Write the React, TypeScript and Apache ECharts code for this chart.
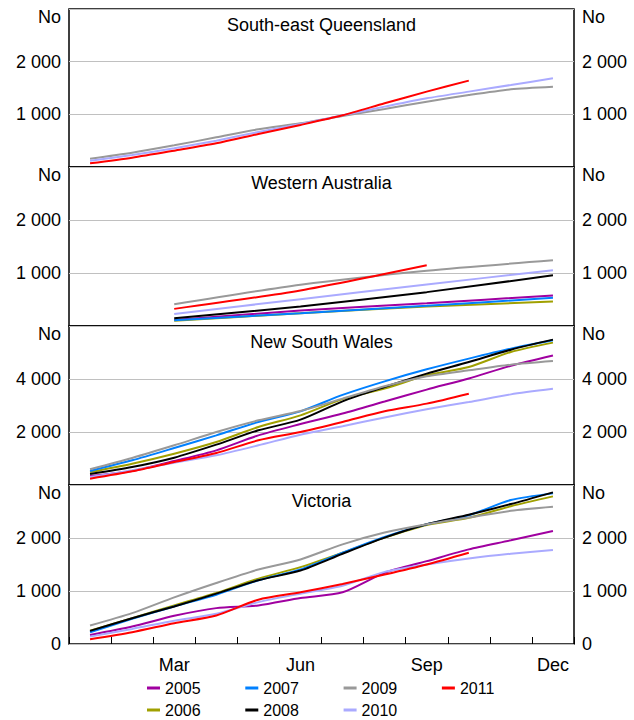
import React, { useEffect, useRef } from "react";
import * as echarts from "echarts";

const months = ["Jan", "Feb", "Mar", "Apr", "May", "Jun", "Jul", "Aug", "Sep", "Oct", "Nov", "Dec"];
const years = ["2005", "2006", "2007", "2008", "2009", "2010", "2011"];
const yearColors = ["#a000a0", "#a0a000", "#0080ff", "#000000", "#999999", "#aaaaff", "#ff0000"];
const panelTitles = ["South-east Queensland", "Western Australia", "New South Wales", "Victoria"];
const panelMax = [3000, 3000, 6000, 3000];
const panelInterval = [1000, 1000, 2000, 1000];

// South-east Queensland (monthly)
const seq2009 = [158, 272, 411, 563, 715, 829, 968, 1101, 1241, 1367, 1475, 1525];
const seq2010 = [120, 228, 354, 500, 665, 817, 981, 1146, 1304, 1431, 1557, 1684];
const seq2011 = [70, 177, 310, 449, 627, 798, 981, 1209, 1431, 1640];

// Western Australia (quarterly: Mar, Jun, Sep, Dec)
const wa2005 = [null, null, 114, null, null, 291, null, null, 430, null, null, 576];
const wa2006 = [null, null, 101, null, null, 240, null, null, 367, null, null, 462];
const wa2007 = [null, null, 108, null, null, 240, null, null, 380, null, null, 532];
const wa2008 = [null, null, 146, null, null, 367, null, null, 639, null, null, 956];
const wa2009 = [null, null, 411, null, null, 779, null, null, 1044, null, null, 1240];
const wa2010 = [null, null, 228, null, null, 506, null, null, 785, null, null, 1051];
const wa2011 = [null, null, 323, null, null, 671, null, null, 1146];

// New South Wales (monthly)
const nsw2005 = [340, 528, 906, 1308, 1874, 2300, 2700, 3150, 3600, 4020, 4500, 4890];
const nsw2006 = [490, 805, 1182, 1623, 2189, 2629, 3240, 3636, 4139, 4453, 5019, 5372];
const nsw2007 = [528, 931, 1396, 1874, 2378, 2780, 3400, 3912, 4365, 4768, 5145, 5460];
const nsw2008 = [415, 679, 1031, 1522, 2063, 2466, 3158, 3698, 4202, 4642, 5107, 5485];
const nsw2009 = [591, 1019, 1497, 2000, 2440, 2793, 3258, 3724, 4101, 4327, 4541, 4680];
const nsw2010 = [302, 553, 843, 1120, 1497, 1900, 2220, 2550, 2860, 3130, 3420, 3630];
const nsw2011 = [239, 516, 868, 1208, 1686, 2000, 2378, 2780, 3070, 3447];

// Victoria (monthly)
const vic2005 = [171, 329, 532, 677, 728, 867, 975, 1342, 1563, 1785, 1956, 2133];
const vic2006 = [253, 487, 728, 962, 1234, 1450, 1722, 2007, 2247, 2380, 2600, 2785];
const vic2007 = [222, 475, 709, 930, 1203, 1405, 1722, 2019, 2260, 2430, 2716, 2842];
const vic2008 = [247, 487, 709, 950, 1203, 1386, 1703, 2007, 2260, 2440, 2640, 2861];
const vic2009 = [348, 582, 880, 1152, 1405, 1595, 1880, 2102, 2260, 2386, 2513, 2589];
const vic2010 = [139, 285, 440, 570, 790, 950, 1100, 1361, 1500, 1614, 1703, 1772];
const vic2011 = [89, 222, 392, 538, 836, 975, 1133, 1310, 1500, 1722];

const panelData: Record<string, (number | null)[]>[] = [
  { "2009": seq2009, "2010": seq2010, "2011": seq2011 },
  { "2005": wa2005, "2006": wa2006, "2007": wa2007, "2008": wa2008, "2009": wa2009, "2010": wa2010, "2011": wa2011 },
  { "2005": nsw2005, "2006": nsw2006, "2007": nsw2007, "2008": nsw2008, "2009": nsw2009, "2010": nsw2010, "2011": nsw2011 },
  { "2005": vic2005, "2006": vic2006, "2007": vic2007, "2008": vic2008, "2009": vic2009, "2010": vic2010, "2011": vic2011 },
];

const FONT = "'Liberation Sans', Arial, sans-serif";
const gridTops = [9, 167, 326, 485];
const gridHeights = [158, 159, 159, 159];
const gridLeft = 69;
const gridWidth = 505;

function fmtNum(v: number): string {
  return String(v).replace(/\B(?=(\d{3})+(?!\d))/g, " ");
}

export default function App() {
  const ref = useRef<HTMLDivElement>(null);
  useEffect(() => {
    if (!ref.current) return;
    const chart = echarts.init(ref.current, null, { renderer: "svg" });

    const grids = gridTops.map((t, i) => ({
      left: gridLeft,
      top: t,
      width: gridWidth,
      height: gridHeights[i],
      show: true,
      borderColor: "#000",
      borderWidth: 1.5,
      backgroundColor: "transparent",
    }));

    const xAxes = gridTops.map((_, i) => {
      const last = i === gridTops.length - 1;
      return {
        type: "category",
        gridIndex: i,
        data: months,
        boundaryGap: true,
        axisLine: { show: false },
        axisTick: {
          show: last,
          inside: true,
          length: 7,
          interval: 0,
          lineStyle: { color: "#000", width: 1 },
        },
        axisLabel: {
          show: last,
          interval: (idx: number) => idx % 3 === 2,
          color: "#000",
          fontSize: 18,
          fontFamily: FONT,
          margin: 12,
        },
        splitLine: { show: false },
      };
    });

    const yAxes: any[] = [];
    gridTops.forEach((_, i) => {
      const max = panelMax[i];
      const last = i === gridTops.length - 1;
      const formatter = (v: number) => {
        if (v === max) return "{no|No}";
        if (v === 0) return last ? "0" : "";
        return fmtNum(v);
      };
      const common = {
        type: "value",
        gridIndex: i,
        min: 0,
        max,
        interval: panelInterval[i],
        axisLine: { show: false },
        axisTick: { show: false },
      };
      const label = {
        color: "#000",
        fontSize: 18,
        fontFamily: FONT,
        margin: 8,
        showMaxLabel: true,
        showMinLabel: true,
        formatter,
        rich: { no: { padding: [16, 0, 0, 0], fontSize: 18, fontFamily: FONT, color: "#000" } },
      };
      yAxes.push({
        ...common,
        position: "left",
        axisLabel: label,
        splitLine: { show: true, lineStyle: { color: "#c0c0c0", width: 1 } },
      });
      yAxes.push({
        ...common,
        position: "right",
        axisLabel: label,
        splitLine: { show: false },
      });
    });

    const series: any[] = [];
    panelData.forEach((pd, i) => {
      years.forEach((y, k) => {
        const d = pd[y];
        if (!d) return;
        series.push({
          name: y,
          type: "line",
          xAxisIndex: i,
          yAxisIndex: i * 2,
          data: d,
          connectNulls: true,
          symbol: "none",
          showSymbol: false,
          smooth: 0.25,
          color: yearColors[k],
          lineStyle: { width: 2, color: yearColors[k] },
          emphasis: { disabled: true },
          z: 2 + k,
        });
      });
    });

    const titles = panelTitles.map((t, i) => ({
      text: t,
      left: gridLeft + gridWidth / 2,
      textAlign: "center",
      top: gridTops[i] + 7,
      padding: 0,
      textStyle: { fontSize: 18, fontWeight: "normal", color: "#000", fontFamily: FONT },
    }));

    const legendCommon = {
      left: 147,
      orient: "horizontal",
      padding: 0,
      itemGap: 44.7,
      itemWidth: 13,
      itemHeight: 3,
      icon: "rect",
      selectedMode: false,
      textStyle: { fontSize: 16, color: "#000", fontFamily: FONT },
    };

    chart.setOption({
      animation: false,
      textStyle: { fontFamily: FONT },
      title: titles,
      grid: grids,
      xAxis: xAxes,
      yAxis: yAxes,
      legend: [
        { ...legendCommon, top: 680, data: ["2005", "2007", "2009", "2011"] },
        { ...legendCommon, top: 702, data: ["2006", "2008", "2010"] },
      ],
      series,
    });
    return () => chart.dispose();
  }, []);

  return (
    <div
      ref={ref}
      style={{ position: "fixed", left: 0, top: 0, width: 634, height: 720, background: "#fff" }}
    />
  );
}
